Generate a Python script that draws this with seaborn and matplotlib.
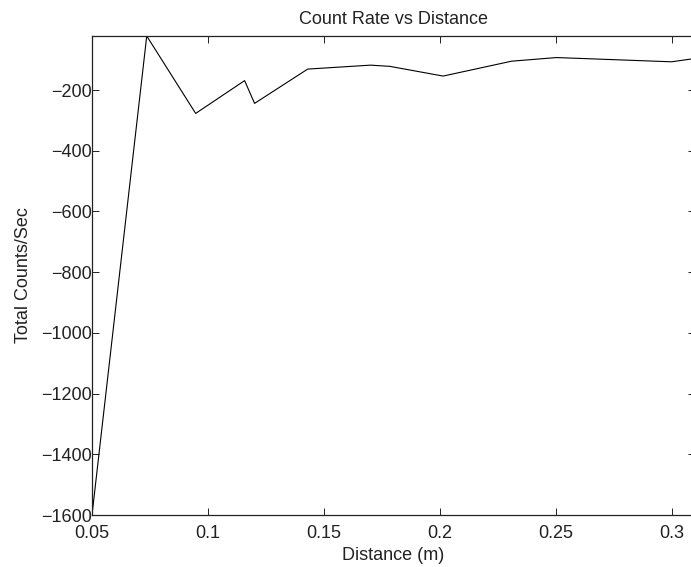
import matplotlib
matplotlib.use("Agg")
import matplotlib.pyplot as plt
import seaborn as sns
import pandas as pd

distance = [0.05, 0.0736, 0.0947, 0.1158, 0.1201, 0.143, 0.1701, 0.1784, 0.2014, 0.2309, 0.2503, 0.2999, 0.31]
counts = [-1600, -22, -277, -169, -244, -131, -118, -122, -154, -105, -93, -107, -96]

xticks = [0.05, 0.1, 0.15, 0.2, 0.25, 0.3]
xtick_labels = ["0.05", "0.1", "0.15", "0.2", "0.25", "0.3"]
yticks = [-1600, -1400, -1200, -1000, -800, -600, -400, -200]

df = pd.DataFrame({"Distance": distance, "Counts": counts})

sns.set_theme(style="ticks")
plt.rcParams["font.family"] = ["Liberation Sans", "DejaVu Sans"]

W, H = 691, 567
fig = plt.figure(figsize=(W / 100, H / 100), dpi=100)
left, right, top, bottom = 92, 695, 36, 515
ax = fig.add_axes([left / W, 1 - bottom / H, (right - left) / W, (bottom - top) / H])

sns.lineplot(data=df, x="Distance", y="Counts", sort=False, color="black",
             linewidth=0.8, ax=ax, estimator=None)

ax.set_xlim(0.05, 0.31)
ax.set_ylim(-1600, -22)
ax.set_xticks(xticks)
ax.set_xticklabels(xtick_labels)
ax.set_yticks(yticks)
ax.set_yticklabels([f"\u2212{abs(v)}" for v in yticks])

for s in ax.spines.values():
    s.set_visible(True)
    s.set_color("#222222")
    s.set_linewidth(0.9)

fs = 13
ax.tick_params(direction="in", length=5, width=0.7, top=True, right=True,
               labelsize=fs, colors="#222222")
ax.tick_params(axis="x", pad=7)
ax.tick_params(axis="y", pad=0.3)
for lbl in ax.get_xticklabels() + ax.get_yticklabels():
    lbl.set_color("#222222")

ax.set_xlabel("Distance (m)", fontsize=fs, color="#222222", labelpad=4)
ax.set_ylabel("Total Counts/Sec", fontsize=fs, color="#222222", labelpad=6)
ax.set_title("Count Rate vs Distance", fontsize=fs, color="#222222", pad=8.5)
ax.grid(False)

fig.savefig("out.png", dpi=100, facecolor="white")
